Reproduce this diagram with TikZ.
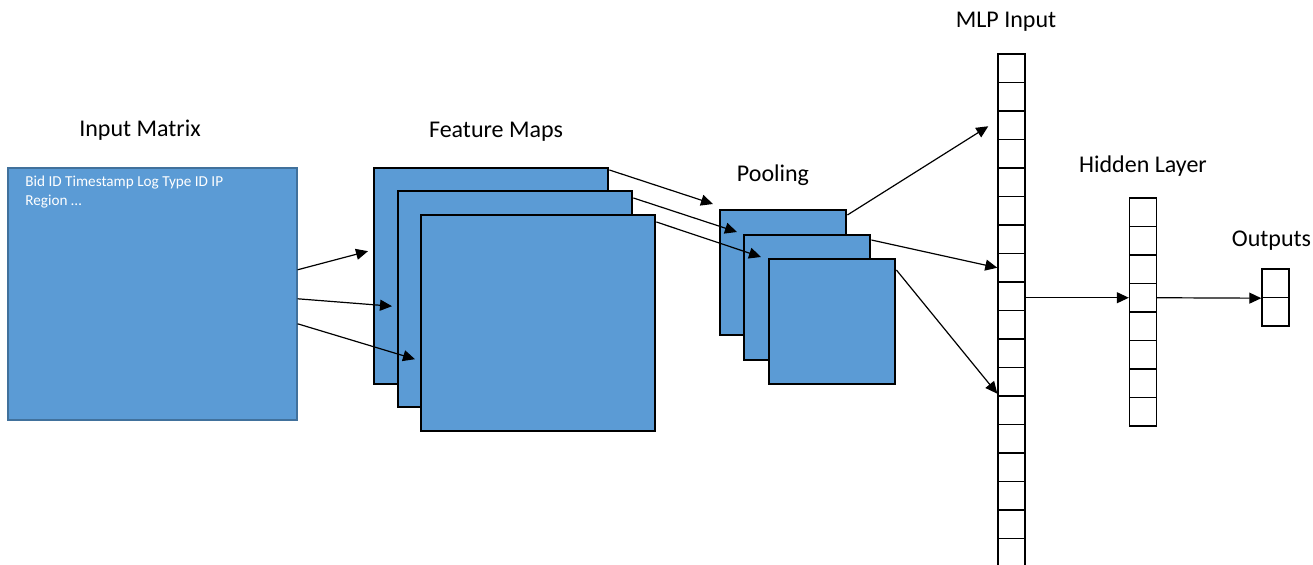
\documentclass[tikz,border=0pt]{standalone}
\usepackage{fontspec}
\setmainfont{Carlito}
\usetikzlibrary{arrows.meta,positioning}
\definecolor{mapblue}{HTML}{5B9BD5}
\definecolor{mapedge}{HTML}{41719C}

\begin{document}
\begin{tikzpicture}[
  x=0.5pt,y=-0.5pt,
  title/.style={font=\fontsize{12}{14}\selectfont,anchor=base,inner sep=0pt},
  inbox/.style={rectangle,draw=mapedge,line width=0.8pt,fill=mapblue,minimum width=144.5pt,minimum height=126pt,inner sep=0pt,anchor=north west},
  fieldtext/.style={font=\fontsize{7.6}{9.5}\selectfont,text=white,align=left,inner sep=0pt,anchor=north west},
  mapbox/.style={rectangle,draw,line width=1.2pt,fill=mapblue,minimum width=117pt,minimum height=108pt,inner sep=0pt,anchor=north west},
  poolbox/.style={mapbox,minimum width=63pt,minimum height=62.5pt},
  cell/.style={rectangle,draw=black,line width=0.7pt,minimum width=13.5pt,minimum height=14.25pt,inner sep=0pt},
  arrow/.style={-{Triangle[length=6pt,width=5.5pt]},line width=0.6pt}
]
\useasboundingbox (0,0) rectangle (1313,565);
\clip (0,0) rectangle (1313,565);

% Input
\node[inbox] (input) at (7,167) {};
\node[fieldtext] (fields) at (25,176) {Bid ID Timestamp Log Type ID IP\\Region …};

% Feature maps
\node[mapbox] (fm1) at (373,167) {};
\node[mapbox] (fm2) at ([shift={(24,23)}]fm1.north west) {};
\node[mapbox] (fm3) at ([shift={(23,24)}]fm2.north west) {};

% Pooling
\node[poolbox] (pool1) at (719,209) {};
\node[poolbox] (pool2) at ([shift={(24,25)}]pool1.north west) {};
\node[poolbox] (pool3) at ([shift={(25,24)}]pool2.north west) {};

% MLP
\foreach \i in {1,...,18}
  \node[cell] (mlp\i) at (1011.5,{39.75+\i*28.5}) {};
\foreach \i in {1,...,8}
  \node[cell] (hid\i) at (1143,{183.75+\i*28.5}) {};
\foreach \i in {1,2}
  \node[cell] (out\i) at (1275.5,{254.75+\i*28.5}) {};

% Labels
\node[title] (inlabel) at (140,137) {Input Matrix};
\node[title] (fmlabel) at (496,138) {Feature Maps};
\node[title] (poollabel) at (773,182) {Pooling};
\node[title] (mlplabel) at (1006,28) {MLP Input};
\node[title] (hidlabel) at (1143,173) {Hidden Layer};
\node[title] (outlabel) at (1271.5,247) {Outputs};

% Arrows
\draw[arrow] ([shift={(0,-24)}]input.east) -- ([shift={(-5,-25)}]fm1.west);
\draw[arrow] ([shift={(0,5)}]input.east) -- ([shift={(-5,7)}]fm2.west);
\draw[arrow] ([shift={(0,30)}]input.east) -- ([shift={(-5,36)}]fm3.west);
\draw[arrow] ([shift={(0,3)}]fm1.north east) -- ([shift={(-6,-5)}]pool1.north west);
\draw[arrow] ([shift={(0,8)}]fm2.north east) -- ([shift={(-6,-2)}]pool2.north west);
\draw[arrow] ([shift={(0,8)}]fm3.north east) -- ([shift={(-7,-1)}]pool3.north west);
\draw[arrow] ([shift={(0,6)}]pool1.north east) -- ([shift={(-9,1)}]mlp3.west);
\draw[arrow] ([shift={(0,6)}]pool2.north east) -- (mlp8.west);
\draw[arrow] ([shift={(0,12)}]pool3.north east) -- ([shift={(0,-3)}]mlp12.south west);
\draw[arrow] (hid4.west -| mlp9.east) -- (hid4.west);
\draw[arrow] (hid4.east) -- (out1.south west);

\end{tikzpicture}
\end{document}
